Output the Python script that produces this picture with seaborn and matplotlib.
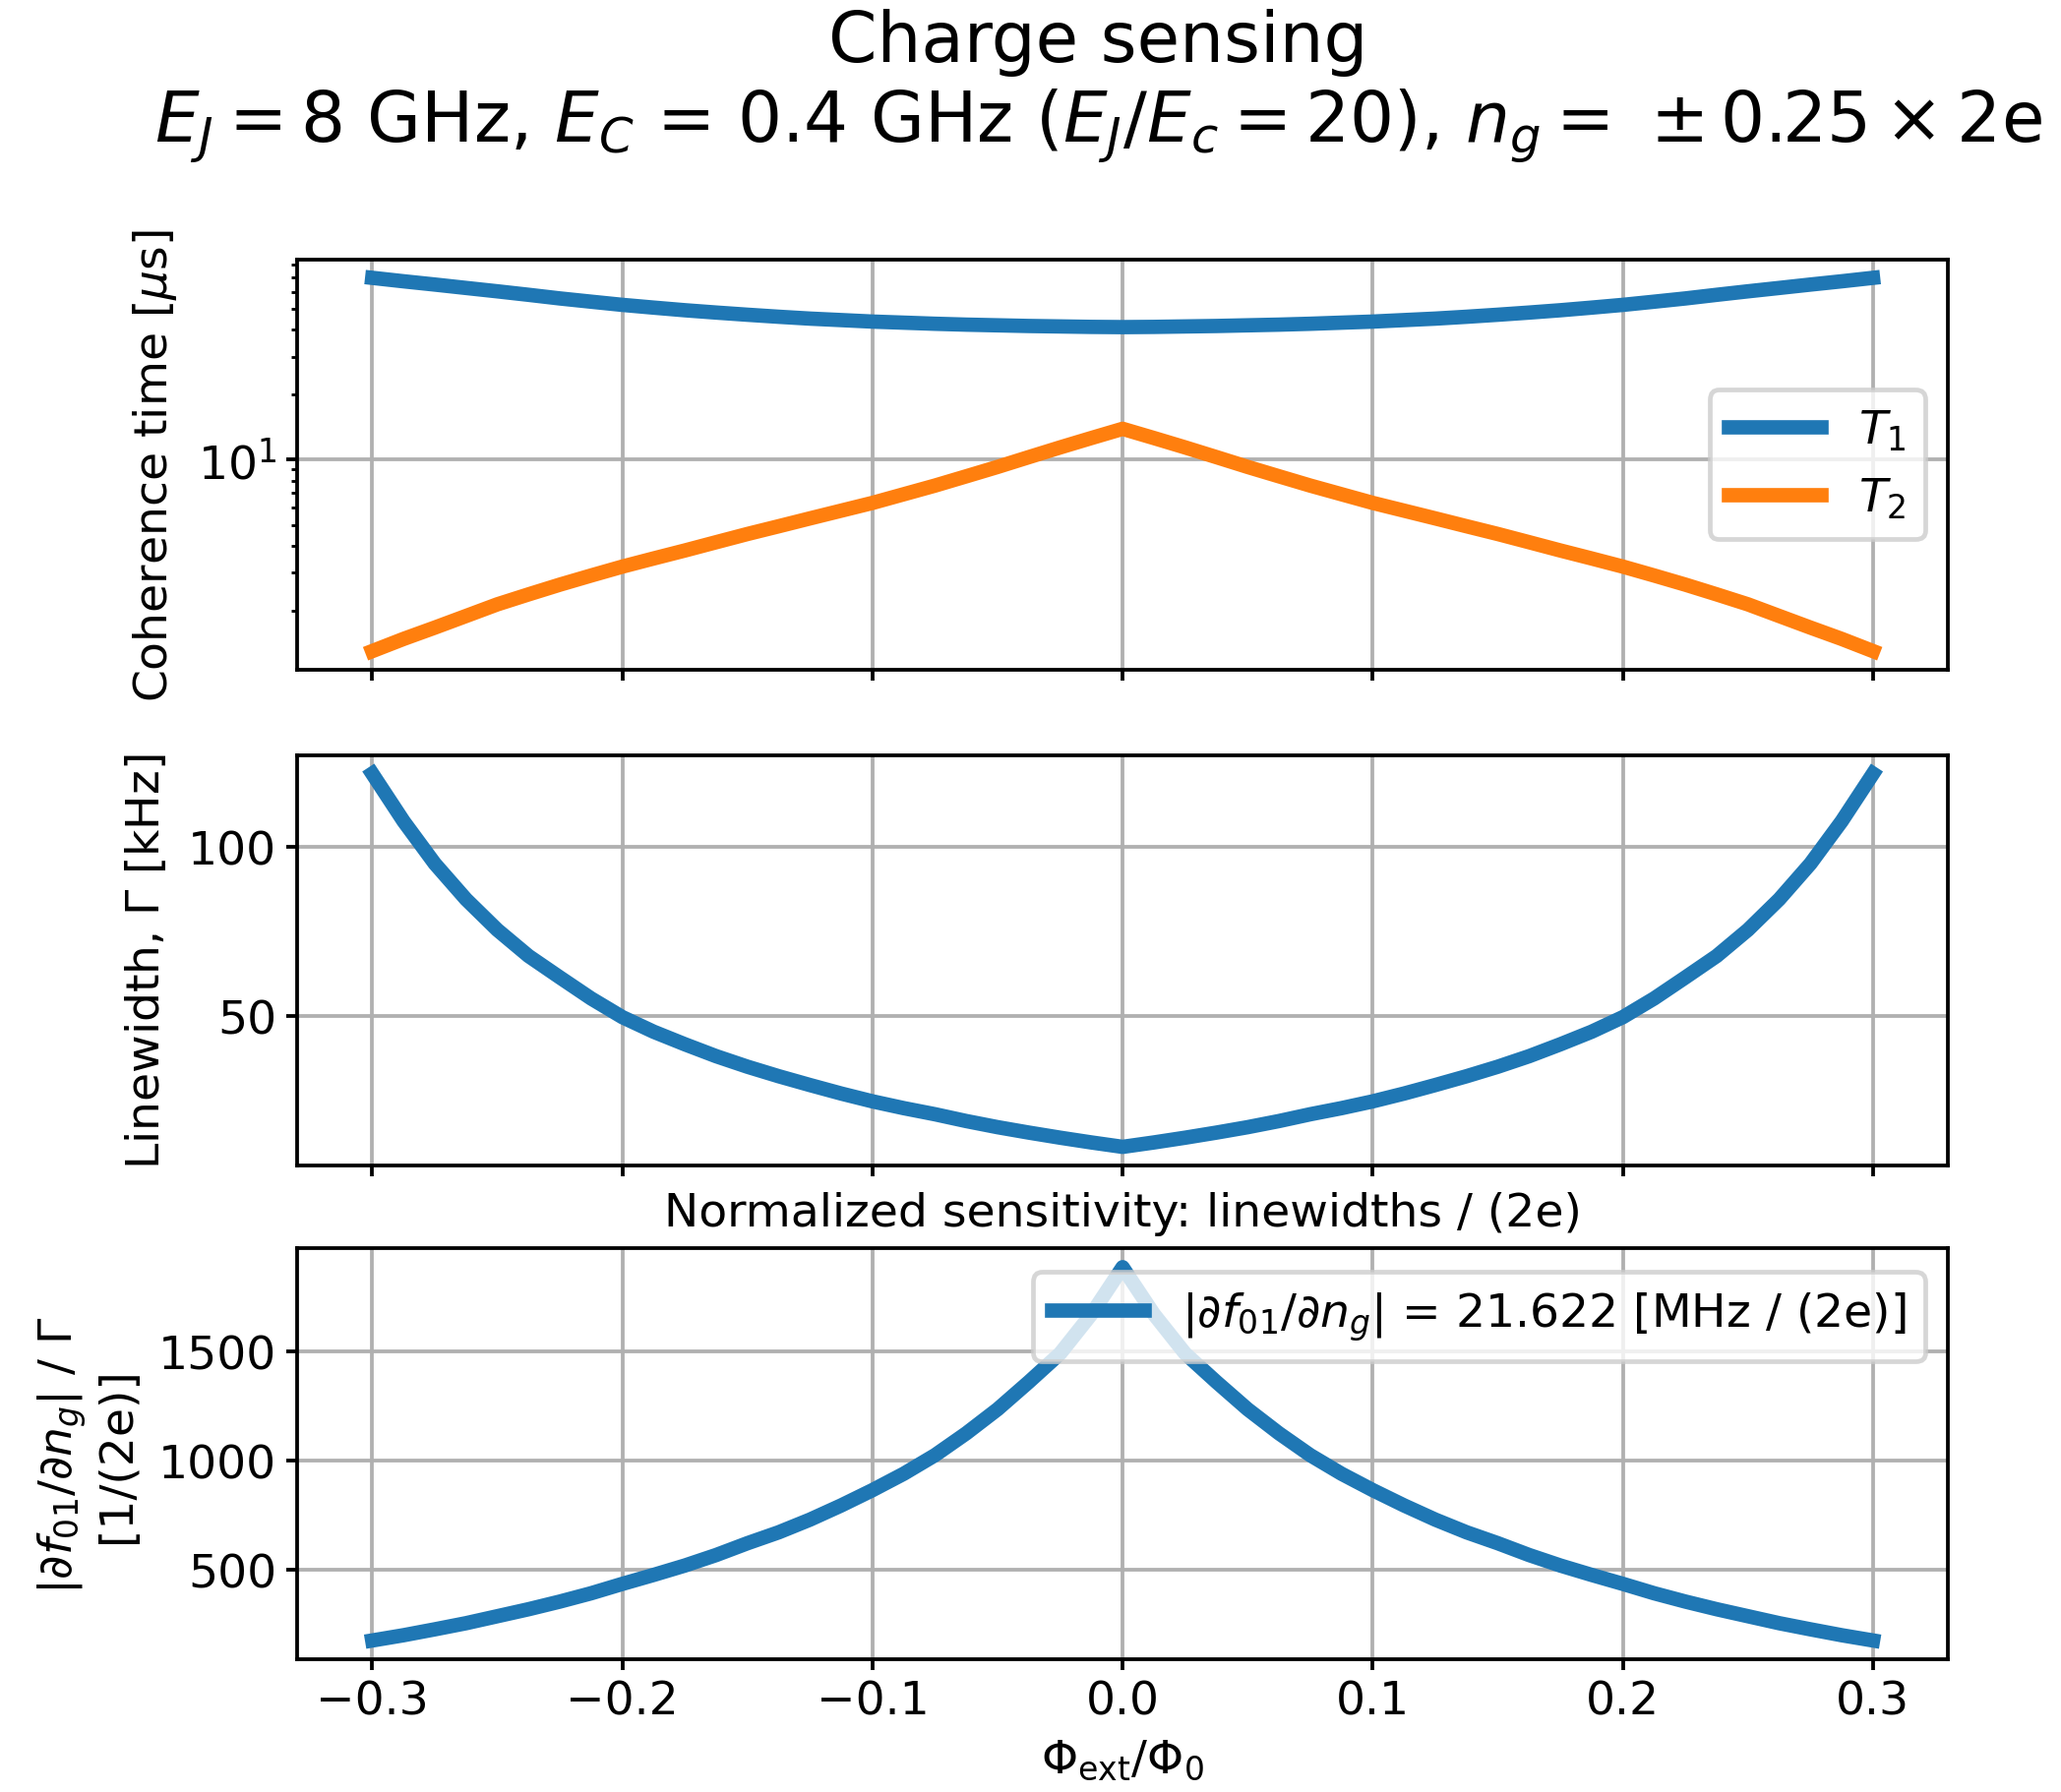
import numpy as np
import pandas as pd
import matplotlib
matplotlib.use("Agg")
import matplotlib.pyplot as plt
import matplotlib.ticker as mticker
import seaborn as sns

# ---------------- data ----------------
phi = [-0.3, -0.2875, -0.275, -0.2625, -0.25, -0.2375, -0.225, -0.2125, -0.2, -0.1875, -0.175, -0.1625,
       -0.15, -0.1375, -0.125, -0.1125, -0.1, -0.0875, -0.075, -0.0625, -0.05, -0.0375, -0.025, -0.0125,
       0.0,
       0.0125, 0.025, 0.0375, 0.05, 0.0625, 0.075, 0.0875, 0.1, 0.1125, 0.125, 0.1375, 0.15,
       0.1625, 0.175, 0.1875, 0.2, 0.2125, 0.225, 0.2375, 0.25, 0.2625, 0.275, 0.2875, 0.3]
T1 = [69.5, 67.0, 64.7, 62.4, 60.2, 58.0, 55.8, 53.9, 52.1, 50.6, 49.2, 48.0,
      46.9, 45.9, 45.0, 44.3, 43.6, 43.1, 42.6, 42.2, 41.9, 41.6, 41.4, 41.2,
      41.1,
      41.2, 41.4, 41.6, 41.9, 42.2, 42.6, 43.1, 43.6, 44.3, 45.0, 45.9, 46.9,
      48.0, 49.2, 50.6, 52.1, 53.9, 55.8, 58.0, 60.2, 62.4, 64.7, 67.0, 69.5]
T2 = [1.30, 1.48, 1.67, 1.89, 2.14, 2.38, 2.64, 2.91, 3.20, 3.49, 3.80, 4.15,
      4.53, 4.92, 5.35, 5.81, 6.31, 6.92, 7.59, 8.38, 9.26, 10.28, 11.4, 12.6,
      13.9,
      12.6, 11.4, 10.28, 9.26, 8.38, 7.59, 6.92, 6.31, 5.81, 5.35, 4.92, 4.53,
      4.15, 3.80, 3.49, 3.20, 2.91, 2.64, 2.38, 2.14, 1.89, 1.67, 1.48, 1.30]
linewidth_kHz = [121.5, 107.5, 95.0, 84.5, 75.5, 67.8, 61.5, 55.3, 49.8, 45.5, 41.8, 38.3,
                 35.2, 32.4, 29.8, 27.3, 25.0, 23.0, 21.2, 19.2, 17.4, 15.8, 14.3, 12.9,
                 11.6,
                 12.9, 14.3, 15.8, 17.4, 19.2, 21.2, 23.0, 25.0, 27.3, 29.8, 32.4, 35.2,
                 38.3, 41.8, 45.5, 49.8, 55.3, 61.5, 67.8, 75.5, 84.5, 95.0, 107.5, 121.5]
sensitivity = [177, 201, 228, 256, 288, 320, 355, 393, 436, 477, 520, 568,
               622, 672, 730, 795, 865, 940, 1025, 1125, 1235, 1360, 1490, 1670,
               1885,
               1670, 1490, 1360, 1235, 1125, 1025, 940, 865, 795, 730, 672, 622,
               568, 520, 477, 436, 393, 355, 320, 288, 256, 228, 201, 177]
x_ticks = [-0.3, -0.2, -0.1, 0.0, 0.1, 0.2, 0.3]

df = pd.DataFrame({"phi": phi, "T1": T1, "T2": T2, "G": linewidth_kHz, "S": sensitivity})

# ---------------- figure ----------------
DPI = 340
W, H = 2095, 1823
plt.rcParams.update({
    "font.size": 10, "axes.titlesize": 10, "font.family": ["DejaVu Sans"],
    "xtick.major.size": 2.3, "ytick.major.size": 2.3,
    "xtick.major.pad": 2.1, "ytick.major.pad": 2.1,
    "ytick.minor.size": 1.3,
})
fig = plt.figure(figsize=(W / DPI, H / DPI), dpi=DPI)

left, width, hgt = 0.1442, 0.8010, 0.2290
ax1 = fig.add_axes([left, 0.6259, width, hgt])
ax2 = fig.add_axes([left, 0.3494, width, hgt], sharex=ax1)
ax3 = fig.add_axes([left, 0.0741, width, hgt], sharex=ax1)

blue, orange = "#1f77b4", "#ff7f0e"
LW = 3.1

sns.lineplot(data=df, x="phi", y="T1", ax=ax1, color=blue, lw=LW, label=r"$T_1$")
sns.lineplot(data=df, x="phi", y="T2", ax=ax1, color=orange, lw=LW, label=r"$T_2$")
ax1.set_yscale("log")
ax1.set_ylabel(r"Coherence time [$\mu$s]")
ax1.legend(loc="center right")

sns.lineplot(data=df, x="phi", y="G", ax=ax2, color=blue, lw=LW)
ax2.set_ylabel(r"Linewidth, $\Gamma$ [kHz]")
ax2.yaxis.set_major_locator(mticker.MultipleLocator(50))

sns.lineplot(data=df, x="phi", y="S", ax=ax3, color=blue, lw=LW,
             label=r"$|\partial f_{01}/\partial n_g|$ = 21.622 [MHz / (2e)]")
ax3.set_ylabel("$|\\partial f_{01}/\\partial n_g|$ / $\\Gamma$\n[1/(2e)]")
ax3.yaxis.set_major_locator(mticker.MultipleLocator(500))
ax3.set_title("Normalized sensitivity: linewidths / (2e)", pad=5)
ax3.legend(loc="upper right")
ax3.set_xlabel(r"$\Phi_{\rm ext}/\Phi_0$", labelpad=3)

for ax in (ax1, ax2, ax3):
    ax.grid(True)
    ax.set_xticks(x_ticks)
for ax in (ax1, ax2):
    ax.tick_params(labelbottom=False)
    ax.set_xlabel("")

fig.suptitle("Charge sensing\n"
             r"$E_J = 8$ GHz, $E_C$ = 0.4 GHz ($E_J/E_c = 20$), $n_g =$ $\pm\,0.25 \times 2$e",
             fontsize=15, x=0.533, y=0.995, va="top")

fig.savefig("out.png", dpi=DPI)
